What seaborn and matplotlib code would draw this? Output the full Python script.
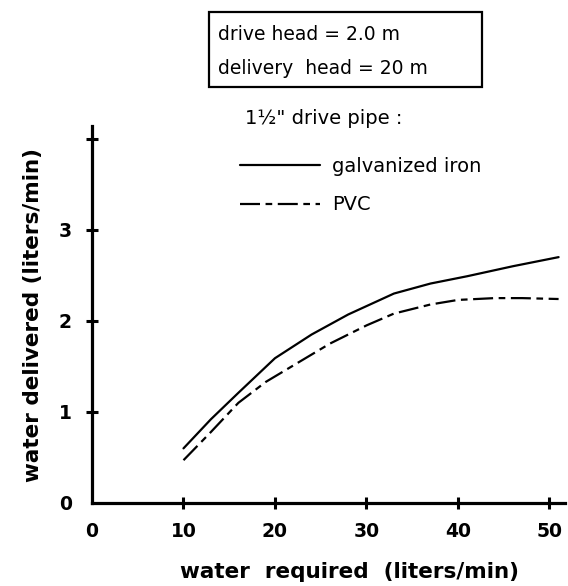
import pandas as pd
import matplotlib.pyplot as plt
from matplotlib.patches import Rectangle
import seaborn as sns

# Data
gi_required = [10, 13, 16, 20, 24, 28, 33, 37, 41, 46, 51]
gi_delivered = [0.60, 0.92, 1.21, 1.59, 1.85, 2.07, 2.30, 2.41, 2.49, 2.60, 2.70]
pvc_required = [10, 13, 16, 19, 22, 26, 30, 33, 37, 40, 44, 47, 51]
pvc_delivered = [0.47, 0.78, 1.10, 1.33, 1.51, 1.75, 1.95, 2.08, 2.18, 2.23, 2.25, 2.25, 2.24]
series_names = ["galvanized iron", "PVC"]
x_ticks = [0, 10, 20, 30, 40, 50]
y_ticks = [0, 1, 2, 3, 4]
y_tick_labels = ["0", "1", "2", "3", ""]

df = pd.concat([
    pd.DataFrame({"required": gi_required, "delivered": gi_delivered, "pipe": series_names[0]}),
    pd.DataFrame({"required": pvc_required, "delivered": pvc_delivered, "pipe": series_names[1]}),
])

sns.set_style("white")
plt.rcParams["font.family"] = ["DejaVu Sans"]
plt.rcParams["text.color"] = "black"
plt.rcParams["axes.labelcolor"] = "black"

fig = plt.figure(figsize=(5.68, 5.86), dpi=100)
ax = fig.add_axes([92 / 568, 83 / 586, 473 / 568, 377 / 586])

sns.lineplot(data=df, x="required", y="delivered", style="pipe",
             dashes={series_names[0]: "", series_names[1]: (9, 2.5, 3, 2.5)},
             color="black", linewidth=1.6, ax=ax, legend=True)

ax.set_xlim(0, 51.7)
ax.set_ylim(0, 4.14)
ax.set_xticks(x_ticks)
ax.set_yticks(y_ticks)
ax.set_yticklabels(y_tick_labels)

for s in ["top", "right"]:
    ax.spines[s].set_visible(False)
for s in ["left", "bottom"]:
    ax.spines[s].set_linewidth(2.3)
    ax.spines[s].set_color("black")

ax.tick_params(axis="both", direction="inout", length=9, width=2.2,
               labelsize=13.5, colors="black", bottom=True, left=True)
ax.tick_params(axis="x", pad=9)
ax.tick_params(axis="y", pad=10)
for lab in ax.get_xticklabels() + ax.get_yticklabels():
    lab.set_fontweight("bold")
ax.xaxis.get_major_ticks()[0].tick1line.set_visible(False)
ax.yaxis.get_major_ticks()[0].tick1line.set_visible(False)

ax.set_xlabel("water  required  (liters/min)", fontsize=15.5, fontweight="bold")
ax.set_ylabel("water delivered (liters/min)", fontsize=15.5, fontweight="bold")
ax.xaxis.set_label_coords(0.545, -0.156)
ax.xaxis.label.set_va("top")
ax.yaxis.set_label_coords(-0.104, 0.5)

# legend
ax.legend(loc="upper left", bbox_to_anchor=(240 / 568, 1 - 157 / 586),
          bbox_transform=fig.transFigure, frameon=False, fontsize=14,
          handlelength=4.1, handletextpad=0.65, labelspacing=1.0,
          borderpad=0, borderaxespad=0)
fig.text(245 / 568, 1 - 118 / 586, "1½\" drive pipe :", fontsize=14, va="center", ha="left")

# boxed conditions
fig.patches.append(Rectangle((209 / 568, 1 - 87 / 586), 273 / 568, 75 / 586,
                             transform=fig.transFigure, fill=False,
                             edgecolor="black", linewidth=1.6))
fig.text(218 / 568, 1 - 35 / 586, "drive head = 2.0 m", fontsize=13.5, va="center", ha="left")
fig.text(218 / 568, 1 - 69 / 586, "delivery  head = 20 m", fontsize=13.5, va="center", ha="left")

plt.savefig("out.png", dpi=100)
plt.close()
